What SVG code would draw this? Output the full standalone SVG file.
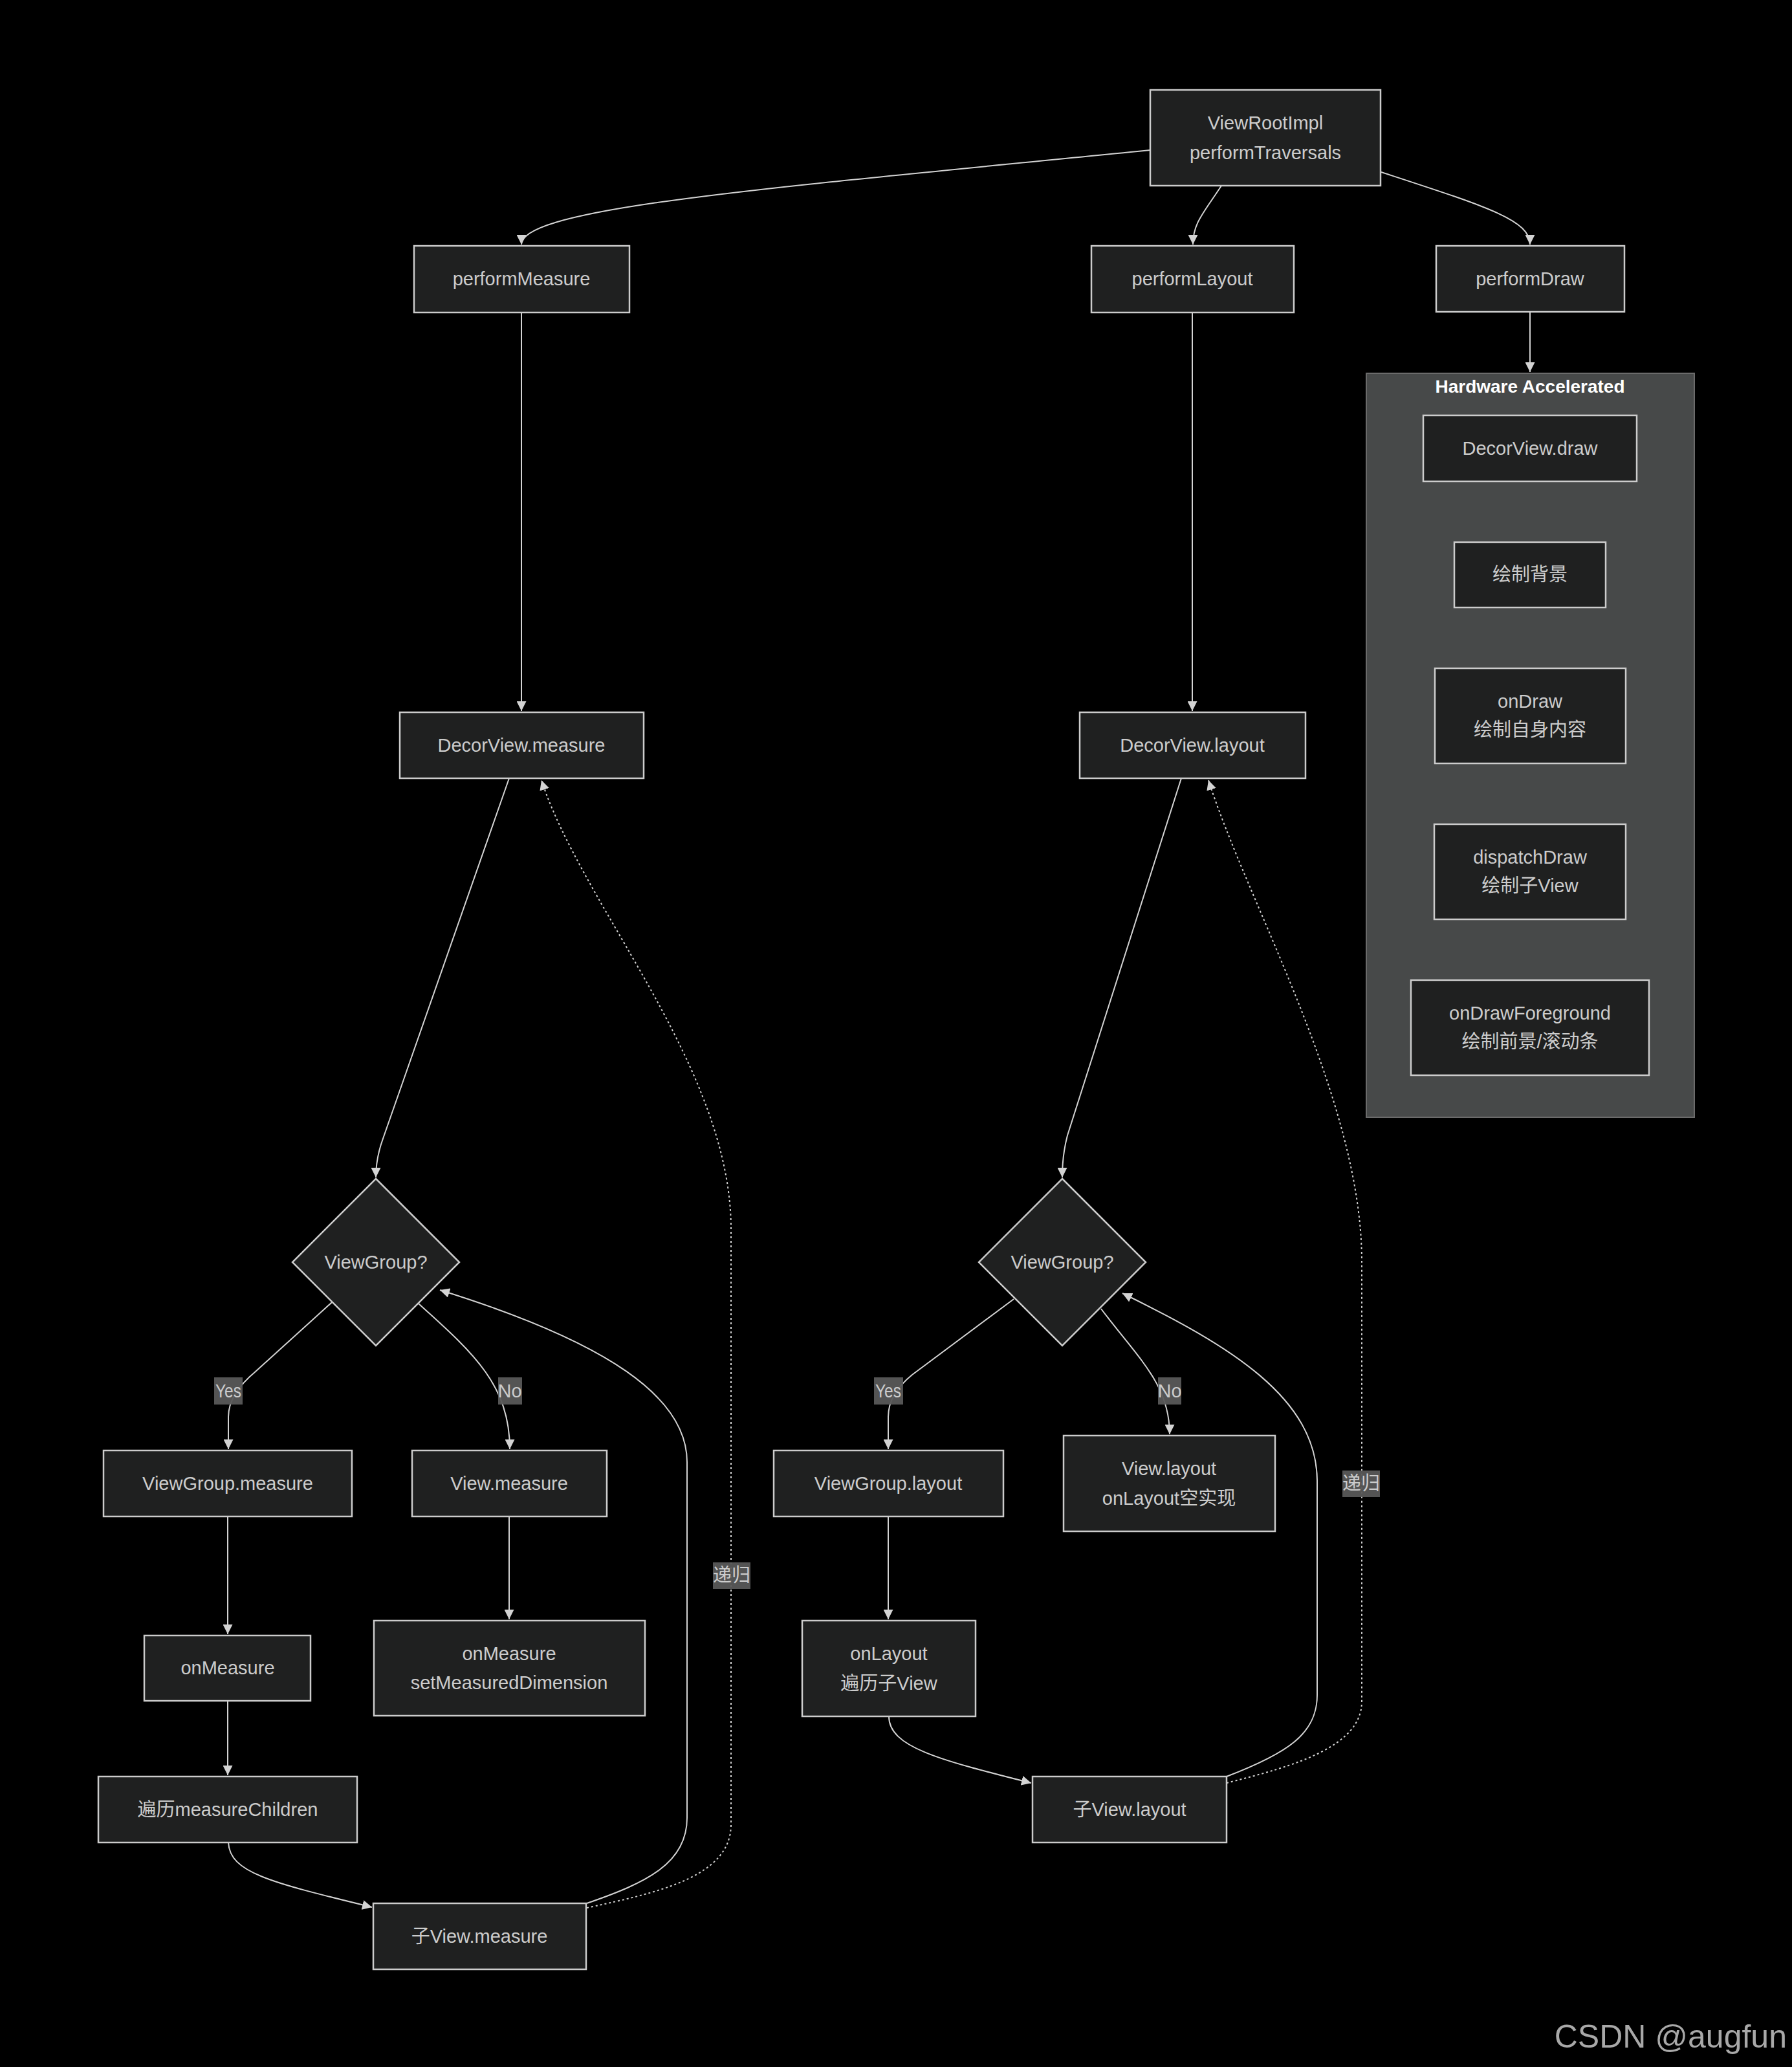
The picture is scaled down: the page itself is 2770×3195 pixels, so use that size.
<svg xmlns="http://www.w3.org/2000/svg" width="2770" height="3195" viewBox="0 0 2770 3195">
<defs>
<style>
.node rect, .node polygon { fill: #1f2020; stroke: #cccccc; stroke-width: 2.5; }
.node text, .lbl text { font-family: "Liberation Sans", "Noto Sans CJK SC", sans-serif; font-size: 29px; fill: #cccccc; text-anchor: middle; dominant-baseline: central; }
.edge { fill: none; stroke: #d3d3d3; stroke-width: 2; }
.dot { stroke-dasharray: 3 4; }
.lbl rect { fill: #585858; opacity: 0.95; }
.cluster rect { fill: #474949; stroke: #6b6b6b; stroke-width: 2; }
.cluster text { font-family: "Liberation Sans", sans-serif; font-size: 28px; font-weight: bold; fill: #ffffff; text-anchor: middle; dominant-baseline: central; }
</style>
<marker id="arrow" viewBox="0 0 10 10" refX="10" refY="5" markerUnits="userSpaceOnUse" markerWidth="15" markerHeight="15" orient="auto">
<path d="M0,0 L10,5 L0,10 z" fill="#d3d3d3"/>
</marker>
</defs>
<rect x="0" y="0" width="2770" height="3195" fill="#000000"/>

<g id="cluster-hw" class="cluster">
<rect x="2112" y="577" width="507" height="1150"/>
<text x="2365" y="597">Hardware Accelerated</text>
</g>

<g id="connectors">
<path class="edge" d="M1778,232 C1200,290 806,320 806,378" marker-end="url(#arrow)"/>
<path class="edge" d="M1888,287 C1860,330 1844,345 1844,378" marker-end="url(#arrow)"/>
<path class="edge" d="M2135,266 C2300,320 2365,340 2365,378" marker-end="url(#arrow)"/>
<path class="edge" d="M806,483 L806,1099" marker-end="url(#arrow)"/>
<path class="edge" d="M1843,483 L1843,1099" marker-end="url(#arrow)"/>
<path class="edge" d="M2365,482 L2365,575" marker-end="url(#arrow)"/>
<path class="edge" d="M787,1203 L592,1760 Q581,1790 581,1820" marker-end="url(#arrow)"/>
<path class="edge" d="M1826,1203 L1650,1755 Q1642,1785 1642,1820" marker-end="url(#arrow)"/>
<path class="edge" d="M513,2013 L395,2120 Q353,2155 353,2190 L353,2240" marker-end="url(#arrow)"/>
<path class="edge" d="M647,2015 C730,2090 788,2140 788,2240" marker-end="url(#arrow)"/>
<path class="edge" d="M1567,2008 L1410,2125 Q1373,2155 1373,2190 L1373,2240" marker-end="url(#arrow)"/>
<path class="edge" d="M1702,2023 C1760,2100 1808,2140 1808,2217" marker-end="url(#arrow)"/>
<path class="edge" d="M352,2344 L352,2526" marker-end="url(#arrow)"/>
<path class="edge" d="M352,2629 L352,2744" marker-end="url(#arrow)"/>
<path class="edge" d="M787,2344 L787,2503" marker-end="url(#arrow)"/>
<path class="edge" d="M353,2848 C355,2895 420,2910 575,2948" marker-end="url(#arrow)"/>
<path class="edge" d="M1373,2344 L1373,2503" marker-end="url(#arrow)"/>
<path class="edge" d="M1374,2653 C1374,2700 1450,2720 1594,2756" marker-end="url(#arrow)"/>
<path class="edge" d="M907,2942 C1000,2910 1062,2880 1062,2810 L1062,2260 C1062,2160 940,2075 680,1994" marker-end="url(#arrow)"/>
<path class="edge dot" d="M907,2949 C1020,2925 1130,2900 1130,2820 L1130,1900 C1130,1650 900,1400 837,1206" marker-end="url(#arrow)"/>
<path class="edge" d="M1896,2746 C1990,2710 2036,2680 2036,2620 L2036,2290 C2036,2160 1900,2080 1735,1999" marker-end="url(#arrow)"/>
<path class="edge dot" d="M1896,2756 C2000,2730 2105,2700 2105,2630 L2105,1950 C2105,1700 1930,1400 1868,1206" marker-end="url(#arrow)"/>
<g class="lbl"><rect x="331" y="2129" width="44" height="42"/><text x="353" y="2150" textLength="40" lengthAdjust="spacingAndGlyphs">Yes</text></g>
<g class="lbl"><rect x="770" y="2129" width="37" height="42"/><text x="788" y="2150">No</text></g>
<g class="lbl"><rect x="1351" y="2129" width="45" height="42"/><text x="1373" y="2150" textLength="40" lengthAdjust="spacingAndGlyphs">Yes</text></g>
<g class="lbl"><rect x="1790" y="2129" width="36" height="42"/><text x="1808" y="2150">No</text></g>
<g class="lbl"><rect x="1102" y="2415" width="58" height="41"/><text x="1131" y="2435">递归</text></g>
<g class="lbl"><rect x="2075" y="2273" width="58" height="41"/><text x="2104" y="2293">递归</text></g>
</g>

<g id="n-viewrootimpl" class="node"><rect x="1778" y="139" width="356" height="148"/><text x="1956" y="190">ViewRootImpl</text><text x="1956" y="236">performTraversals</text></g>
<g id="n-performmeasure" class="node"><rect x="640" y="380" width="333" height="103"/><text x="806" y="431">performMeasure</text></g>
<g id="n-performlayout" class="node"><rect x="1687" y="380" width="313" height="103"/><text x="1843" y="431">performLayout</text></g>
<g id="n-performdraw" class="node"><rect x="2220" y="380" width="291" height="102"/><text x="2365" y="431">performDraw</text></g>
<g id="n-decorview-measure" class="node"><rect x="618" y="1101" width="377" height="102"/><text x="806" y="1152">DecorView.measure</text></g>
<g id="n-decorview-layout" class="node"><rect x="1669" y="1101" width="349" height="102"/><text x="1843" y="1152">DecorView.layout</text></g>
<g id="n-decorview-draw" class="node"><rect x="2200" y="642" width="330" height="102"/><text x="2365" y="693">DecorView.draw</text></g>
<g id="n-draw-bg" class="node"><rect x="2248" y="838" width="234" height="101"/><text x="2365" y="888">绘制背景</text></g>
<g id="n-ondraw" class="node"><rect x="2218" y="1033" width="295" height="147"/><text x="2365" y="1084">onDraw</text><text x="2365" y="1128">绘制自身内容</text></g>
<g id="n-dispatchdraw" class="node"><rect x="2217" y="1274" width="296" height="147"/><text x="2365" y="1325">dispatchDraw</text><text x="2365" y="1369">绘制子View</text></g>
<g id="n-ondrawforeground" class="node"><rect x="2181" y="1515" width="368" height="147"/><text x="2365" y="1566">onDrawForeground</text><text x="2365" y="1610">绘制前景/滚动条</text></g>
<g id="n-vg-measure-q" class="node"><polygon points="581,1822 710,1951 581,2080 452,1951"/><text x="581" y="1951">ViewGroup?</text></g>
<g id="n-vg-layout-q" class="node"><polygon points="1642,1822 1771,1951 1642,2080 1513,1951"/><text x="1642" y="1951">ViewGroup?</text></g>
<g id="n-viewgroup-measure" class="node"><rect x="160" y="2242" width="384" height="102"/><text x="352" y="2293">ViewGroup.measure</text></g>
<g id="n-view-measure" class="node"><rect x="637" y="2242" width="301" height="102"/><text x="787" y="2293">View.measure</text></g>
<g id="n-onmeasure" class="node"><rect x="223" y="2528" width="257" height="101"/><text x="352" y="2578">onMeasure</text></g>
<g id="n-onmeasure-setdim" class="node"><rect x="578" y="2505" width="419" height="147"/><text x="787" y="2556">onMeasure</text><text x="787" y="2601">setMeasuredDimension</text></g>
<g id="n-measurechildren" class="node"><rect x="152" y="2746" width="400" height="102"/><text x="352" y="2797">遍历measureChildren</text></g>
<g id="n-child-measure" class="node"><rect x="577" y="2942" width="329" height="102"/><text x="741" y="2993">子View.measure</text></g>
<g id="n-viewgroup-layout" class="node"><rect x="1196" y="2242" width="355" height="102"/><text x="1373" y="2293">ViewGroup.layout</text></g>
<g id="n-view-layout" class="node"><rect x="1644" y="2219" width="327" height="148"/><text x="1807" y="2270">View.layout</text><text x="1807" y="2316">onLayout空实现</text></g>
<g id="n-onlayout" class="node"><rect x="1240" y="2505" width="268" height="148"/><text x="1374" y="2556">onLayout</text><text x="1374" y="2602">遍历子View</text></g>
<g id="n-child-layout" class="node"><rect x="1596" y="2746" width="300" height="102"/><text x="1746" y="2797">子View.layout</text></g>

<text x="2762" y="3165" font-family="Liberation Sans, sans-serif" font-size="50" fill="#a8a8a8" text-anchor="end">CSDN @augfun</text>
</svg>
